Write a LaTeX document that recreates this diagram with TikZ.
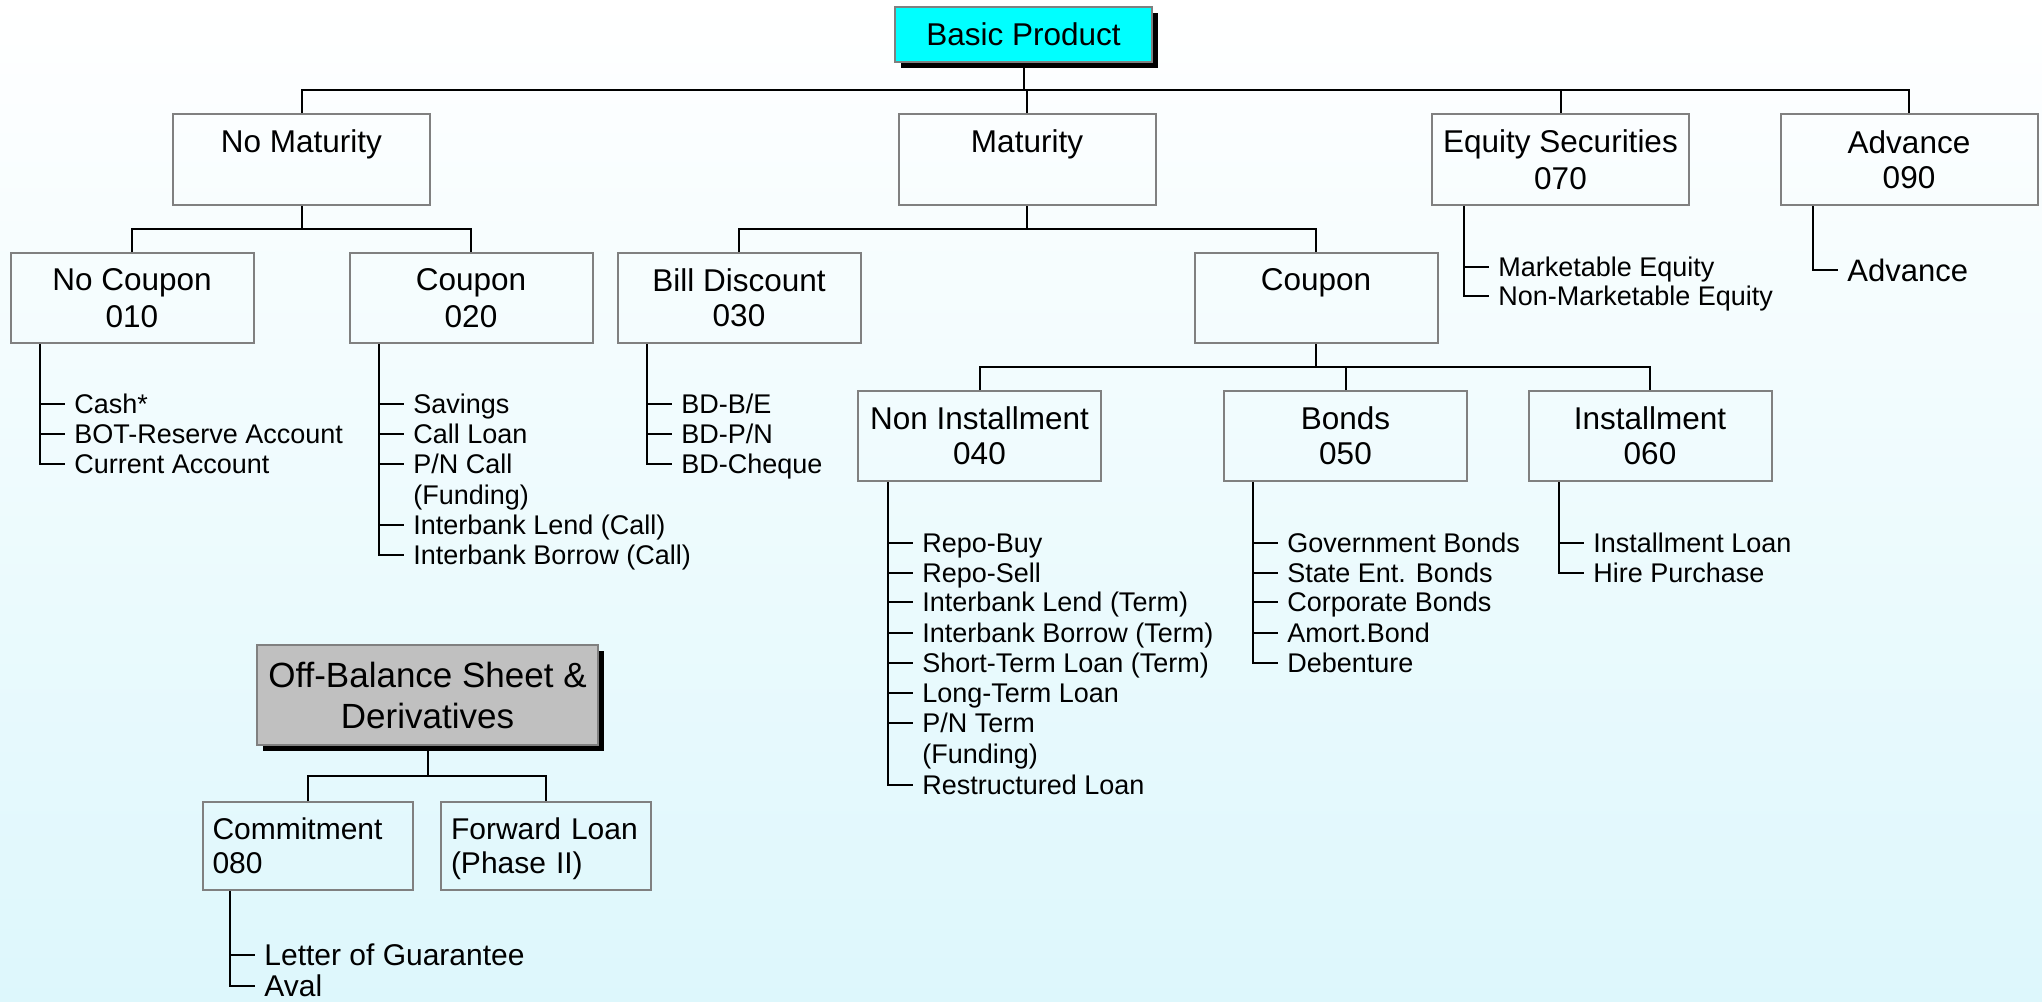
\documentclass[tikz,border=0pt]{standalone}
\usepackage{fontspec}
\setmainfont{Liberation Sans}
\usetikzlibrary{shadows}
\definecolor{bgbottom}{RGB}{221,247,252}
\definecolor{boxline}{RGB}{128,128,128}
\definecolor{topfill}{RGB}{0,255,255}
\definecolor{offfill}{RGB}{192,192,192}
% line struts: each text line centred on its own half of the box
\newcommand\bxs{\rule[-3.1pt]{0pt}{17.5pt}}
\newcommand\obx{\rule[-4pt]{0pt}{20.5pt}}
\newcommand\cms{\rule[-3.1pt]{0pt}{17pt}}
\begin{document}
\begin{tikzpicture}[x=0.5pt, y=-0.5pt,
  box/.style={draw=boxline, line width=1pt, inner sep=0pt, align=center,
    font=\fontsize{15.75}{17.5}\selectfont},
  lvl/.style={box, minimum width=128.5pt, minimum height=45.5pt},
  sub/.style={box, minimum width=121.5pt, minimum height=45pt},
  cmbox/.style={box, align=left, text width=95pt, inner xsep=5pt, minimum height=44pt,
    font=\fontsize{15}{17}\selectfont},
  shd/.style={drop shadow={shadow xshift=3pt, shadow yshift=-3pt, fill=black, opacity=1}},
  cn/.style={draw=black, line width=1pt},
  itm/.style={anchor=west, inner xsep=4.5pt, inner ysep=0pt, text height=9.7pt,
    text depth=0pt, font=\fontsize{13.5}{16}\selectfont},
  bigitm/.style={itm, text height=11.1pt, font=\fontsize{15.5}{18}\selectfont},
  obitm/.style={itm, text height=10.7pt, font=\fontsize{15}{17}\selectfont}]

% background
\shade[top color=white, bottom color=bgbottom] (0,0) rectangle (2042,1002);
\useasboundingbox (0,0) rectangle (2042,1002);

% root
\node[box, fill=topfill, shd, minimum width=128.5pt, minimum height=27.5pt] (bp) at (1023.5,34.5) {Basic Product};

% first level
\node[lvl] (nomat) at (301.5,159.5) {\bxs No Maturity\\\bxs};
\node[lvl] (mat)   at (1027,159.5)  {\bxs Maturity\\\bxs};
\node[lvl] (eq)    at (1560.5,159.5){\bxs Equity Securities\\\bxs 070};
\node[lvl] (adv)   at (1909,159.5)  {\bxs Advance\\\bxs 090};

% second level
\node[sub] (nc)  at (132,298)  {\bxs No Coupon\\\bxs 010};
\node[sub] (cp)  at (471,298)  {\bxs Coupon\\\bxs 020};
\node[sub] (bd)  at (739,298)  {\bxs Bill Discount\\\bxs 030};
\node[sub] (cpm) at (1316,298) {\bxs Coupon\\\bxs};

% third level
\node[sub] (ni)  at (979.5,436)  {\bxs Non Installment\\\bxs 040};
\node[sub] (bo)  at (1345.5,436) {\bxs Bonds\\\bxs 050};
\node[sub] (ins) at (1650,436)   {\bxs Installment\\\bxs 060};

% off-balance group
\node[box, fill=offfill, shd, minimum width=170.5pt, minimum height=50pt,
  font=\fontsize{17.5}{20.5}\selectfont] (obs) at (427.5,695) {\obx Off-Balance Sheet \&\\\obx Derivatives};
\node[cmbox] (cmt) at (307.5,846) {\cms Commitment\\\cms 080};
\node[cmbox] (fwd) at (546,846)   {\cms Forward~Loan\\\cms (Phase~II)};

% bus levels
\coordinate (b1) at (0,90);
\coordinate (b2) at (0,229);
\coordinate (b3) at (0,367);
\coordinate (b4) at (0,776);

\draw[cn] (bp.south) -- (bp.south |- b1);
\draw[cn] (nomat.north) |- (adv.north |- b1) -- (adv.north);
\draw[cn] (mat.north) -- (mat.north |- b1);
\draw[cn] (eq.north) -- (eq.north |- b1);

\draw[cn] (nomat.south) -- (nomat.south |- b2);
\draw[cn] (nc.north) |- (cp.north |- b2) -- (cp.north);
\draw[cn] (mat.south) -- (mat.south |- b2);
\draw[cn] (bd.north) |- (cpm.north |- b2) -- (cpm.north);

\draw[cn] (cpm.south) -- (cpm.south |- b3);
\draw[cn] (ni.north) |- (ins.north |- b3) -- (ins.north);
\draw[cn] (bo.north) -- (bo.north |- b3);

\draw[cn] (obs.south) -- (obs.south |- b4);
\draw[cn] (cmt.north) |- (fwd.north |- b4) -- (fwd.north);

% list spines
\coordinate (snc) at (40,0);
\coordinate (scp) at (379,0);
\coordinate (sbd) at (647,0);
\coordinate (sni) at (888,0);
\coordinate (sbo) at (1253,0);
\coordinate (sin) at (1559,0);
\coordinate (seq) at (1464,0);
\coordinate (sad) at (1813,0);
\coordinate (scm) at (230,0);

% No Coupon
\node[itm] (nc1) at (65,404) {Cash*};
\node[itm] (nc2) at (65,434) {BOT-Reserve Account};
\node[itm] (nc3) at (65,464) {Current Account};
\draw[cn] (nc.south -| snc) |- (nc3.west);
\foreach \i in {1,2} \draw[cn] (nc\i.west -| snc) -- (nc\i.west);

% Coupon 020
\node[itm] (cp1) at (404,404) {Savings};
\node[itm] (cp2) at (404,434) {Call Loan};
\node[itm] (cp3) at (404,464) {P/N Call};
\node[itm] (cp3b) at (404,495) {(Funding)};
\node[itm] (cp4) at (404,525) {Interbank Lend (Call)};
\node[itm] (cp5) at (404,555) {Interbank Borrow (Call)};
\draw[cn] (cp.south -| scp) |- (cp5.west);
\foreach \i in {1,2,3,4} \draw[cn] (cp\i.west -| scp) -- (cp\i.west);

% Bill Discount
\node[itm] (bd1) at (672,404) {BD-B/E};
\node[itm] (bd2) at (672,434) {BD-P/N};
\node[itm] (bd3) at (672,464) {BD-Cheque};
\draw[cn] (bd.south -| sbd) |- (bd3.west);
\foreach \i in {1,2} \draw[cn] (bd\i.west -| sbd) -- (bd\i.west);

% Non Installment
\node[itm] (ni1) at (913,543) {Repo-Buy};
\node[itm] (ni2) at (913,573) {Repo-Sell};
\node[itm] (ni3) at (913,602) {Interbank Lend (Term)};
\node[itm] (ni4) at (913,633) {Interbank Borrow (Term)};
\node[itm] (ni5) at (913,663) {Short-Term Loan (Term)};
\node[itm] (ni6) at (913,693) {Long-Term Loan};
\node[itm] (ni7) at (913,723) {P/N Term};
\node[itm] (ni7b) at (913,754) {(Funding)};
\node[itm] (ni8) at (913,785) {Restructured Loan};
\draw[cn] (ni.south -| sni) |- (ni8.west);
\foreach \i in {1,...,7} \draw[cn] (ni\i.west -| sni) -- (ni\i.west);

% Bonds
\node[itm] (bo1) at (1278,543) {Government Bonds};
\node[itm] (bo2) at (1278,573) {State Ent. Bonds};
\node[itm] (bo3) at (1278,602) {Corporate Bonds};
\node[itm] (bo4) at (1278,633) {Amort.Bond};
\node[itm] (bo5) at (1278,663) {Debenture};
\draw[cn] (bo.south -| sbo) |- (bo5.west);
\foreach \i in {1,...,4} \draw[cn] (bo\i.west -| sbo) -- (bo\i.west);

% Installment
\node[itm] (in1) at (1584,543) {Installment Loan};
\node[itm] (in2) at (1584,573) {Hire Purchase};
\draw[cn] (ins.south -| sin) |- (in2.west);
\draw[cn] (in1.west -| sin) -- (in1.west);

% Equity Securities
\node[itm] (eq1) at (1489,267) {Marketable Equity};
\node[itm] (eq2) at (1489,296) {Non-Marketable Equity};
\draw[cn] (eq.south -| seq) |- (eq2.west);
\draw[cn] (eq1.west -| seq) -- (eq1.west);

% Advance
\node[bigitm] (ad1) at (1838,270) {Advance};
\draw[cn] (adv.south -| sad) |- (ad1.west);

% Commitment
\node[obitm] (cm1) at (255,955) {Letter of Guarantee};
\node[obitm] (cm2) at (255,986) {Aval};
\draw[cn] (cmt.south -| scm) |- (cm2.west);
\draw[cn] (cm1.west -| scm) -- (cm1.west);
\end{tikzpicture}
\end{document}
